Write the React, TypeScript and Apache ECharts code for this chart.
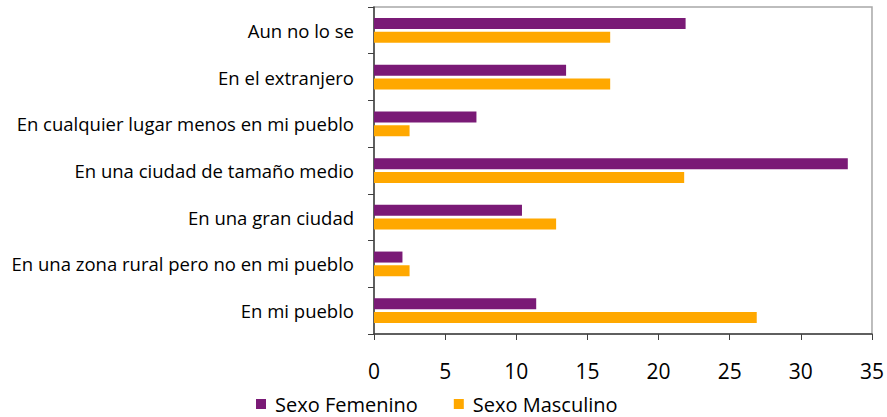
import React, { useEffect, useRef } from "react";
import * as echarts from "echarts";

const categories = [
  "Aun no lo se",
  "En el extranjero",
  "En cualquier lugar menos en mi pueblo",
  "En una ciudad de tamaño medio",
  "En una gran ciudad",
  "En una zona rural pero no en mi pueblo",
  "En mi pueblo",
];
const femenino = [21.9, 13.5, 7.2, 33.3, 10.4, 2.0, 11.4];
const masculino = [16.6, 16.6, 2.5, 21.8, 12.8, 2.5, 26.9];
const seriesNames = ["Sexo Femenino", "Sexo Masculino"];

const FONT = "'Open Sans', sans-serif";

export default function App() {
  const ref = useRef<HTMLDivElement>(null);
  useEffect(() => {
    if (!ref.current) return;
    const chart = echarts.init(ref.current, null, { renderer: "svg" });
    chart.setOption({
      animation: false,
      backgroundColor: "#ffffff",
      textStyle: { fontFamily: FONT },
      grid: {
        left: 374,
        top: 7,
        right: 15,
        bottom: 83,
        show: true,
        borderColor: "#a8a8a8",
        borderWidth: 1.5,
        containLabel: false,
      },
      legend: {
        bottom: 2,
        left: 256,
        padding: 0,
        itemWidth: 10,
        itemHeight: 10,
        itemGap: 36,
        icon: "rect",
        textStyle: {
          fontSize: 20,
          lineHeight: 22,
          color: "#000",
          fontFamily: FONT,
          padding: [0, 0, 0, 4],
        },
        data: seriesNames,
      },
      xAxis: {
        type: "value",
        min: 0,
        max: 35,
        interval: 5,
        axisLine: { show: true, lineStyle: { color: "#404040", width: 1.5 } },
        axisTick: { show: true, length: 6, lineStyle: { color: "#404040" } },
        splitLine: { show: false },
        axisLabel: { fontSize: 21, color: "#000", margin: 26, fontFamily: FONT },
      },
      yAxis: {
        type: "category",
        inverse: true,
        data: categories,
        axisLine: { show: true, lineStyle: { color: "#404040", width: 1.5 } },
        axisTick: { show: true, length: 6, lineStyle: { color: "#404040" } },
        axisLabel: { fontSize: 18.5, color: "#000", margin: 20, fontFamily: FONT },
      },
      series: [
        {
          name: seriesNames[0],
          type: "bar",
          data: femenino,
          barWidth: 11,
          barGap: "25%",
          itemStyle: { color: "#7a1a76" },
        },
        {
          name: seriesNames[1],
          type: "bar",
          data: masculino,
          barWidth: 11,
          barGap: "25%",
          itemStyle: { color: "#ffa800" },
        },
      ],
    });
    return () => chart.dispose();
  }, []);
  return (
    <div
      ref={ref}
      style={{ position: "fixed", left: 0, top: 0, width: 887, height: 417 }}
    />
  );
}
